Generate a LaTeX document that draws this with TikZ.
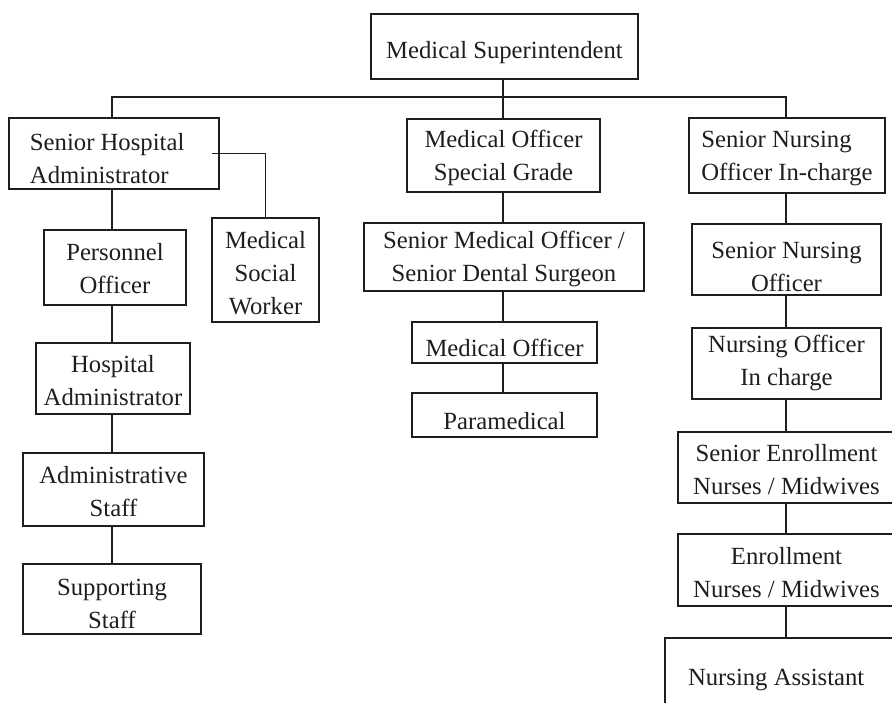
\documentclass[tikz,border=0pt]{standalone}
\usepackage{fontspec}
\setmainfont{Liberation Serif}
\definecolor{ink}{HTML}{1E1E1E}
\begin{document}
\begin{tikzpicture}[x=1pt,y=-1pt,
  box/.style={draw=ink,line width=1.5pt,inner sep=0pt,align=center,text=ink,
    font=\fontsize{24.7}{33}\selectfont},
  one/.style={text height=29pt},
  two/.style={text height=55pt},
  three/.style={text height=89pt},
  link/.style={draw=ink,line width=1.5pt}]
\useasboundingbox (0,0) rectangle (892,702);
\clip (0,0) rectangle (892,702);
% column guides
\coordinate (colL) at (112,0);
\coordinate (colM) at (503,0);
\coordinate (colR) at (786,0);
\coordinate (busL) at (112,97);
\coordinate (busR) at (786,97);
% nodes
\node[box,one,minimum width=267pt,minimum height=65pt] (MS) at (504.5,46.5) {Medical Superintendent};
\node[box,align=flush left,text width=168pt,inner xsep=21pt,text height=28pt,minimum height=71pt] (SHA) at (114,153.5) {Senior Hospital\\Administrator};
\node[box,three,minimum width=107pt,minimum height=104pt] (MSW) at (265.5,270) {Medical\\Social\\Worker};
\node[box,two,text height=52pt,minimum width=142pt,minimum height=75pt] (PO) at (115,267.5) {Personnel\\Officer};
\node[box,two,minimum width=154pt,minimum height=71pt] (HA) at (113,378.5) {Hospital\\Administrator};
\node[box,two,minimum width=181pt,minimum height=73pt] (AS) at (113.5,489.5) {Administrative\\Staff};
\node[box,two,text height=60pt,minimum width=178pt,minimum height=70pt] (SS) at (112,599) {Supporting\\Staff};
\node[box,two,minimum width=193pt,minimum height=73pt] (MSOSG) at (503.5,155.5) {Medical Officer\\Special Grade};
\node[box,two,minimum width=280pt,minimum height=68pt] (SMO) at (504,257) {Senior Medical Officer /\\Senior Dental Surgeon};
\node[box,one,minimum width=185pt,minimum height=41pt] (MO) at (504.5,342.5) {Medical Officer};
\node[box,one,minimum width=185pt,minimum height=44pt] (PM) at (504.5,415) {Paramedical};
\node[box,two,align=left,minimum width=196pt,minimum height=75pt] (SNOIC) at (787,155.5) {Senior Nursing\\Officer In-charge};
\node[box,two,text height=64pt,minimum width=189pt,minimum height=71pt] (SNO) at (786.5,259.5) {Senior Nursing\\Officer};
\node[box,two,text height=50pt,minimum width=189pt,minimum height=71pt] (NOIC) at (786.5,363.5) {Nursing Officer\\In charge};
\node[box,two,minimum width=217pt,minimum height=71pt] (SEN) at (786.5,467.5) {Senior Enrollment\\Nurses / Midwives};
\node[box,two,minimum width=217pt,minimum height=72pt] (EN) at (786.5,570) {Enrollment\\Nurses / Midwives};
\node[box,align=flush left,text width=200pt,inner xsep=23pt,text height=28pt,minimum height=72pt] (NA) at (788,674) {Nursing Assistant};
% connectors
\draw[link] (colM |- MS.south) -- (colM |- MSOSG.north);
\draw[link] (colL |- SHA.north) -- (busL) -- (busR) -- (colR |- SNOIC.north);
\draw[link] ([xshift=-8pt]SHA.east) -| (MSW.north);
\draw[link] (colL |- SHA.south) -- (colL |- PO.north);
\draw[link] (colL |- PO.south) -- (colL |- HA.north);
\draw[link] (colL |- HA.south) -- (colL |- AS.north);
\draw[link] (colL |- AS.south) -- (colL |- SS.north);
\draw[link] (colM |- MSOSG.south) -- (colM |- SMO.north);
\draw[link] (colM |- SMO.south) -- (colM |- MO.north);
\draw[link] (colM |- MO.south) -- (colM |- PM.north);
\draw[link] (colR |- SNOIC.south) -- (colR |- SNO.north);
\draw[link] (colR |- SNO.south) -- (colR |- NOIC.north);
\draw[link] (colR |- NOIC.south) -- (colR |- SEN.north);
\draw[link] (colR |- SEN.south) -- (colR |- EN.north);
\draw[link] (colR |- EN.south) -- (colR |- NA.north);
\end{tikzpicture}
\end{document}
